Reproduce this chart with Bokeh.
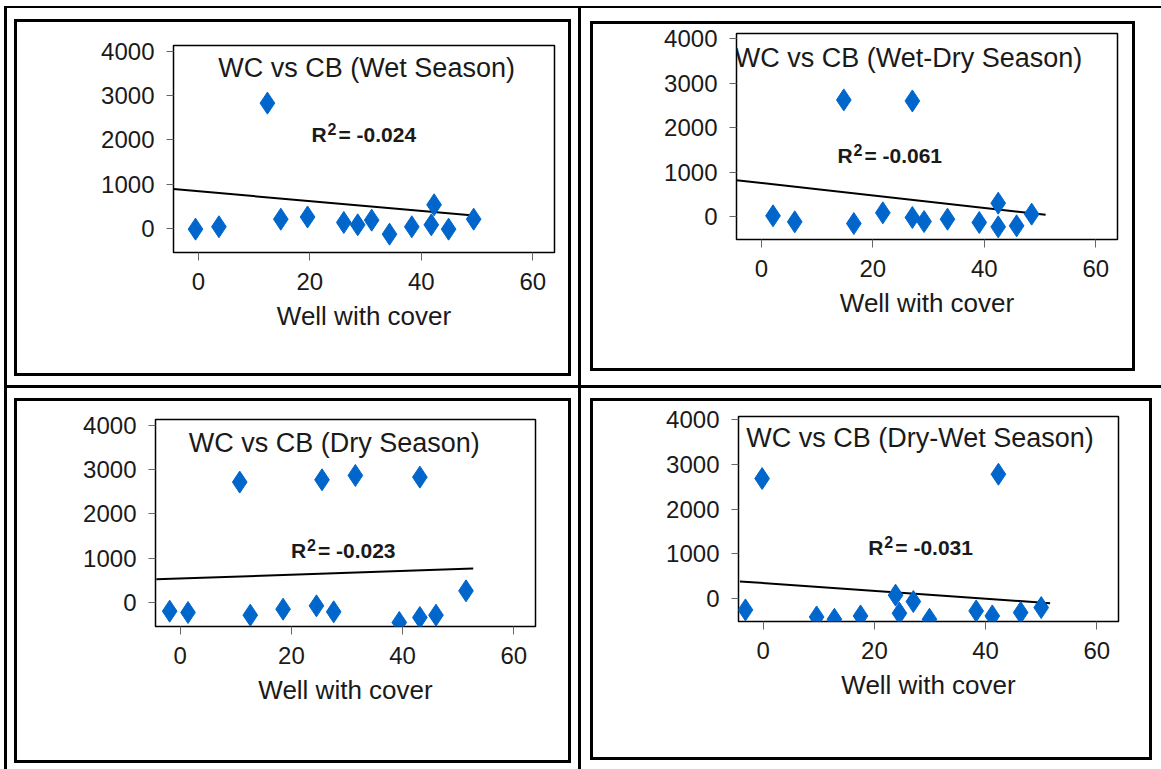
from bokeh.plotting import figure
from bokeh.models import Label, FixedTicker, Range1d
from bokeh.layouts import row, column
from bokeh.embed import file_html
from bokeh.resources import INLINE

# ---------------- data ----------------
titles = ["WC vs CB (Wet Season)", "WC vs CB (Wet-Dry Season)",
          "WC vs CB (Dry Season)", "WC vs CB (Dry-Wet Season)"]
r2_values = ["= -0.024", "= -0.061", "= -0.023", "= -0.031"]
x_label = "Well with cover"
x_ticks = [0, 20, 40, 60]
y_ticks = [0, 1000, 2000, 3000, 4000]

wet_x = [-0.5, 3.7, 12.4, 14.8, 19.6, 26.1, 28.6, 31.1, 34.3, 38.3, 42.3, 41.8, 44.9, 49.4]
wet_y = [-15, 40, 2830, 210, 260, 136, 83, 188, -128, 38, 535, 83, -15, 211]
wet_fit_x = [-4.45, 48.9]
wet_fit_y = [889, 301]

wetdry_x = [2.1, 6.0, 14.8, 16.6, 21.8, 27.1, 27.1, 29.2, 33.4, 39.1, 42.5, 42.5, 45.8, 48.5]
wetdry_y = [15, -120, 2626, -158, 83, 2603, -23, -113, -60, -135, 300, -233, -210, 53]
wetdry_fit_x = [-4.45, 51.0]
wetdry_fit_y = [818, 38]

dry_x = [-1.9, 1.4, 10.7, 12.6, 18.5, 24.5, 25.5, 27.6, 31.5, 39.4, 43.1, 43.1, 46.0, 51.4]
dry_y = [-195, -225, 2716, -285, -150, -75, 2768, -210, 2866, -450, 2828, -338, -285, 263]
dry_fit_x = [-4.3, 52.7]
dry_fit_y = [525, 765]

drywet_x = [-3.2, -0.2, 9.6, 12.8, 17.5, 23.8, 24.5, 27.0, 29.9, 38.3, 41.2, 42.3, 46.3, 50.0]
drywet_y = [-255, 2686, -413, -465, -390, 75, -330, -68, -465, -278, -390, 2783, -315, -203]
drywet_fit_x = [-4.2, 51.6]
drywet_fit_y = [383, -105]

# ---------------- layout / style settings ----------------
MARKER = "#0066CC"
TXT = "#1a1a1a"
BORDER = 3  # thick frame around each panel

panels = [
    # canvas size (inside frame), min borders (l, t, r, b), cell margin (t, r, b, l),
    # title / R2 anchor positions (data units, cap centre)
    dict(x=wet_x, y=wet_y, fx=wet_fit_x, fy=wet_fit_y, yr=(-542, 4131),
         size=(551, 351), mb=(156, 23, 14, 121), margin=(11, 7, 9, 7),
         title_pos=(30.2, 3612), r2_pos=(20.3, 2111)),
    dict(x=wetdry_x, y=wetdry_y, fx=wetdry_fit_x, fy=wetdry_fit_y, yr=(-518, 4122),
         size=(539, 344), mb=(143, 9, 15, 129), margin=(13, 26, 14, 9),
         title_pos=(26.4, 3570), r2_pos=(13.65, 1385)),
    dict(x=dry_x, y=dry_y, fx=dry_fit_x, fy=dry_fit_y, yr=(-541, 4128),
         size=(551, 359), mb=(138, 18, 33, 134), margin=(10, 7, 6, 7),
         title_pos=(27.7, 3598), r2_pos=(19.9, 1184)),
    dict(x=drywet_x, y=drywet_y, fx=drywet_fit_x, fy=drywet_fit_y, yr=(-515, 4075),
         size=(556, 356), mb=(145, 15, 31, 136), margin=(10, 9, 9, 9),
         title_pos=(28.2, 3593), r2_pos=(18.9, 1142)),
]


def make_panel(cfg, title, r2):
    w, h = cfg["size"]
    l, t, r, b = cfg["mb"]
    # the CSS border is drawn inside width/height (border-box), so add it
    p = figure(width=w + 2 * BORDER, height=h + 2 * BORDER,
               x_range=Range1d(-4.45, 63.9), y_range=Range1d(*cfg["yr"]),
               output_backend="svg", toolbar_location=None,
               min_border_left=l, min_border_top=t,
               min_border_right=r + 2 * BORDER, min_border_bottom=b + 2 * BORDER,
               styles={"border": f"{BORDER}px solid black"})
    p.margin = cfg["margin"]
    p.background_fill_color = "white"
    p.border_fill_color = "white"
    p.outline_line_color = "black"
    p.outline_line_width = 1.5
    p.xgrid.visible = False
    p.ygrid.visible = False

    for ax in (p.xaxis[0], p.yaxis[0]):
        ax.axis_line_color = None
        ax.major_tick_in = 0
        ax.minor_tick_line_color = None
        ax.major_tick_line_color = "#666666"
        ax.major_tick_line_width = 1
        ax.major_label_text_font = "Liberation Sans"
        ax.major_label_text_font_size = "24px"
        ax.major_label_text_color = TXT

    p.xaxis.ticker = FixedTicker(ticks=x_ticks)
    p.yaxis.ticker = FixedTicker(ticks=y_ticks)
    p.xaxis.major_tick_out = 8
    p.yaxis.major_tick_out = 7
    p.xaxis.major_label_standoff = 12
    p.yaxis.major_label_standoff = 12
    p.xaxis.axis_label = x_label
    p.xaxis.axis_label_text_font = "Liberation Sans"
    p.xaxis.axis_label_text_font_size = "26px"
    p.xaxis.axis_label_text_font_style = "normal"
    p.xaxis.axis_label_text_color = TXT
    p.xaxis.axis_label_standoff = 8

    p.line(cfg["fx"], cfg["fy"], line_color="black", line_width=2)
    p.scatter(cfg["x"], cfg["y"], marker="diamond", size=22,
              fill_color=MARKER, line_color=MARKER)

    tx, ty = cfg["title_pos"]
    p.add_layout(Label(x=tx, y=ty, text=title, text_align="center",
                       text_baseline="middle", text_font="Liberation Sans",
                       text_font_size="27px", text_color=TXT))
    rx, ry = cfg["r2_pos"]
    bold = dict(text_align="left", text_baseline="middle", text_font="Liberation Sans",
                text_font_style="bold", text_color=TXT)
    p.add_layout(Label(x=rx, y=ry, text="R", text_font_size="21px", **bold))
    p.add_layout(Label(x=rx, y=ry + 124, x_offset=16, text="2",
                       text_font_size="16px", **bold))
    p.add_layout(Label(x=rx, y=ry, x_offset=27, text=r2, text_font_size="21px", **bold))
    return p


figs = [make_panel(c, t, r) for c, t, r in zip(panels, titles, r2_values)]
cells = [column(f, styles={"background-color": "white"}) for f in figs]

root = column(row(cells[0], cells[1], spacing=3),
              row(cells[2], cells[3], spacing=3),
              spacing=3,
              styles={"background-color": "black", "padding-top": "2px",
                      "padding-left": "3px"})
root.margin = (6, 0, 0, 4)

open("out.html", "w").write(file_html(root, INLINE))
